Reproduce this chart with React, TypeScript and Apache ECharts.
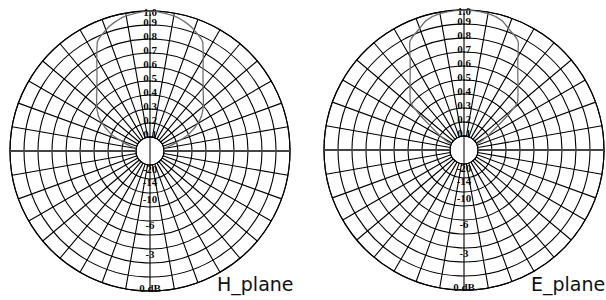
import React, { useEffect, useRef } from "react";
import * as echarts from "echarts";

// Linear amplitude scale (upper half of each plot)
const linearTicks = [0.1, 0.2, 0.3, 0.4, 0.5, 0.6, 0.7, 0.8, 0.9, 1.0];
const linearTickLabels = ["0.1", "0.2", "0.3", "0.4", "0.5", "0.6", "0.7", "0.8", "0.9", "1.0"];
// dB scale (lower half of each plot)
const dbTicks = [-20, -14, -10, -6, -3, 0];
const dbTickLabels = ["-20", "-14", "-10", "-6", "-3", "0 dB"];

// Radiation patterns: angle from boresight (deg) and relative amplitude (symmetric)
const hPlaneAngles = [0, 10, 16, 20, 26, 30, 35, 40, 46, 52, 58, 66, 72, 76, 78];
const hPlaneValues = [1.0, 0.98, 0.95, 0.92, 0.86, 0.76, 0.66, 0.59, 0.53, 0.48, 0.42, 0.31, 0.2, 0.14, 0.1];
const ePlaneAngles = [0, 10, 16, 20, 27, 30, 35, 40, 45, 48, 51, 54, 58, 62, 66];
const ePlaneValues = [1.0, 0.99, 0.965, 0.925, 0.856, 0.77, 0.67, 0.6, 0.545, 0.515, 0.42, 0.31, 0.22, 0.15, 0.1];

const plotTitles = ["H_plane", "E_plane"];

const centers: [number, number][] = [
  [150, 151],
  [464, 150],
];
const R_OUT = 140;
const R_IN = 14;

function patternData(angles: number[], values: number[]) {
  const left = angles
    .map((a, i) => [values[i], a === 0 ? 0 : 360 - a])
    .reverse();
  const right = angles.slice(1).map((a, i) => [values[i + 1], a]);
  return [...left, ...right];
}

function nearestIndex(list: number[], v: number) {
  let best = 0;
  list.forEach((t, i) => {
    if (Math.abs(t - v) < Math.abs(list[best] - v)) best = i;
  });
  return best;
}

const labelFont = {
  fontFamily: "Liberation Sans Narrow",
  fontWeight: "bold" as const,
  fontSize: 11,
  lineHeight: 8,
  color: "#000",
};

export default function App() {
  const ref = useRef<HTMLDivElement>(null);
  useEffect(() => {
    document.body.style.margin = "0";
    if (!ref.current) return;
    const chart = echarts.init(ref.current, null, { renderer: "svg" });

    const polar: any[] = [];
    const angleAxis: any[] = [];
    const radiusAxis: any[] = [];
    const graphic: any[] = [];

    const P = 6;
    const rich = {
      o: { ...labelFont, padding: [0, 0, P, 0] },
      i: { ...labelFont, padding: [1, 0, 0, 0] },
      od: { ...labelFont, padding: [P + 1, 0, 0, 0] },
      id: { ...labelFont, padding: [0, 0, P, 0] },
    };

    const dbPos = dbTicks.map((d) => Math.pow(10, d / 20));

    // label axis helper: one polar per subset of labels (so neighbours never collide)
    const addLabelPolar = (
      c: [number, number],
      startAngle: number,
      values: number[],
      allValues: number[],
      texts: string[],
      outTag: string,
      inTag: string
    ) => {
      const idx = polar.length;
      polar.push({ center: c, radius: [R_IN, R_OUT] });
      angleAxis.push({
        polarIndex: idx,
        type: "value",
        min: 0,
        max: 360,
        startAngle,
        show: false,
      });
      radiusAxis.push({
        polarIndex: idx,
        type: "value",
        min: 0.1,
        max: 1,
        axisLine: { show: false },
        axisTick: { show: false },
        splitLine: { show: false },
        axisLabel: {
          show: true,
          margin: 0,
          align: "center",
          verticalAlign: "middle",
          hideOverlap: false,
          opacity: 0.99,
          customValues: values,
          formatter: (v: number) => {
            const i = nearestIndex(allValues, v);
            const tag = i === allValues.length - 1 ? inTag : outTag;
            return `{${tag}|${texts[i]}}`;
          },
          rich,
          ...labelFont,
        },
      });
    };

    centers.forEach((c, k) => {
      // grid polar
      const gi = polar.length;
      polar.push({ center: c, radius: [R_IN, R_OUT] });
      angleAxis.push({
        polarIndex: gi,
        type: "value",
        min: 0,
        max: 360,
        interval: 10,
        startAngle: 90,
        clockwise: true,
        axisLine: { show: true, lineStyle: { color: "#000", width: 1.1 } },
        axisTick: { show: false },
        axisLabel: { show: false },
        splitLine: { show: true, lineStyle: { color: "#000", width: 1.1 } },
      });
      radiusAxis.push({
        polarIndex: gi,
        type: "value",
        min: 0.1,
        max: 1,
        interval: 0.1,
        axisLine: { show: false },
        axisTick: { show: false },
        axisLabel: { show: false },
        splitLine: { show: true, lineStyle: { color: "#000", width: 1.1 } },
      });

      // linear labels upward, dB labels downward
      addLabelPolar(c, 90, linearTicks.filter((_, i) => i % 2 === 0), linearTicks, linearTickLabels, "o", "i");
      addLabelPolar(c, 90, linearTicks.filter((_, i) => i % 2 === 1), linearTicks, linearTickLabels, "o", "i");
      addLabelPolar(c, 270, dbPos.filter((_, i) => i % 2 === 0), dbPos, dbTickLabels, "od", "id");
      addLabelPolar(c, 270, dbPos.filter((_, i) => i % 2 === 1), dbPos, dbTickLabels, "od", "id");

      // axis decorations
      const [cx, cy] = c;
      graphic.push(
        {
          type: "line",
          z: 5,
          shape: { x1: cx - R_OUT, y1: cy, x2: cx - R_IN, y2: cy },
          style: { stroke: "#444", lineWidth: 2 },
        },
        {
          type: "line",
          z: 5,
          shape: { x1: cx + R_IN, y1: cy, x2: cx + R_OUT, y2: cy },
          style: { stroke: "#444", lineWidth: 2 },
        },
        {
          type: "line",
          z: 5,
          shape: { x1: cx, y1: cy - R_IN, x2: cx, y2: cy + R_IN },
          style: { stroke: "#000", lineWidth: 1 },
        },
        {
          type: "text",
          z: 5,
          x: cx + 67,
          y: 284,
          style: {
            text: plotTitles[k],
            font: '19px "DejaVu Sans"',
            fill: "#111",
            textVerticalAlign: "middle",
          },
        }
      );
    });

    const option: any = {
      animation: false,
      color: ["#707070"],
      polar,
      angleAxis,
      radiusAxis,
      graphic,
      series: [
        {
          type: "line",
          coordinateSystem: "polar",
          polarIndex: 0,
          data: patternData(hPlaneAngles, hPlaneValues),
          symbol: "none",
          smooth: 0.3,
          itemStyle: { color: "#707070" },
          lineStyle: { color: "#707070", width: 1.3 },
          z: 1,
        },
        {
          type: "line",
          coordinateSystem: "polar",
          polarIndex: 5,
          data: patternData(ePlaneAngles, ePlaneValues),
          symbol: "none",
          smooth: 0.3,
          itemStyle: { color: "#707070" },
          lineStyle: { color: "#707070", width: 1.3 },
          z: 1,
        },
      ],
    };
    chart.setOption(option);
    return () => chart.dispose();
  }, []);
  return <div ref={ref} style={{ width: 606, height: 300 }} />;
}
